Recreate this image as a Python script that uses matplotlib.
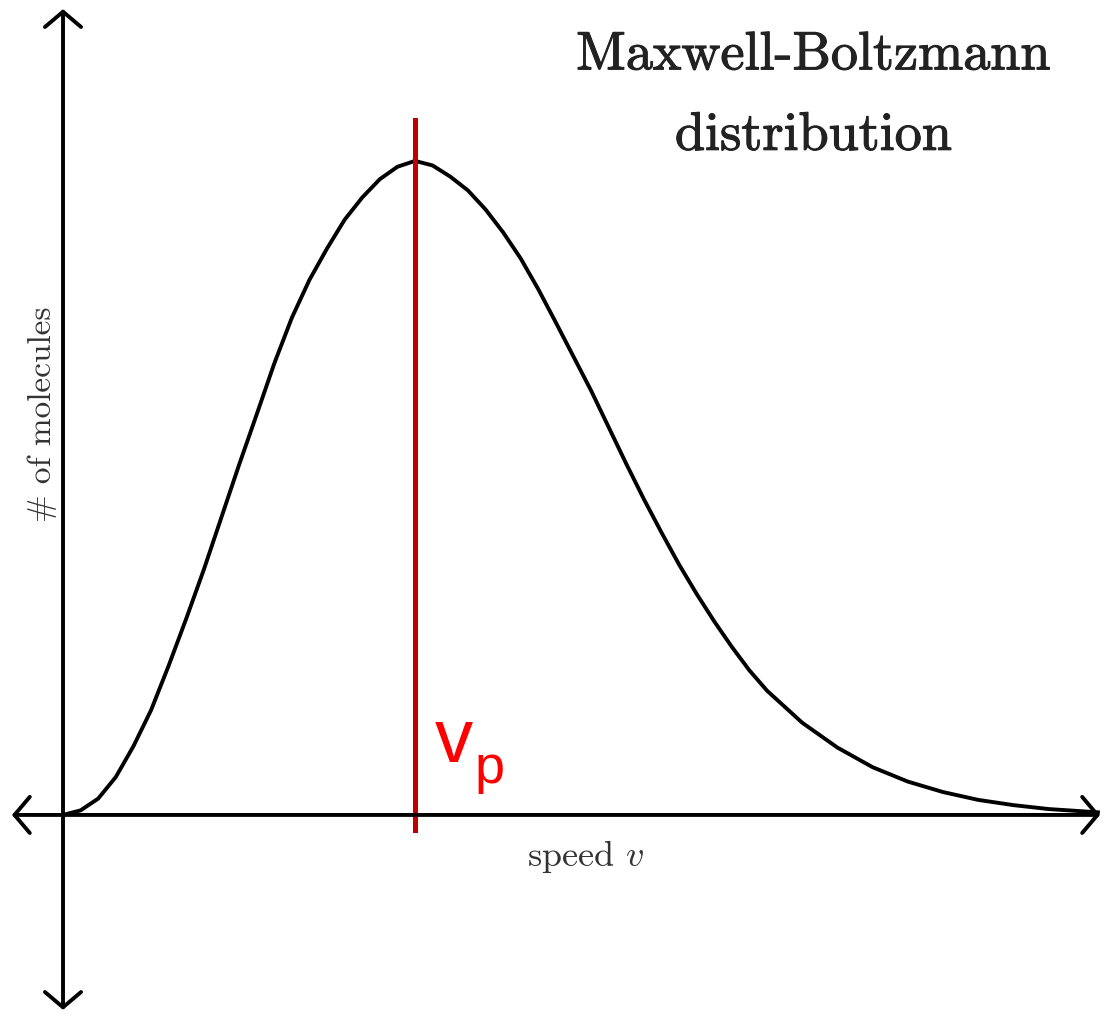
import matplotlib.pyplot as plt
import matplotlib.patheffects as pe

# Curva: velocidade (em unidades de v_p) e nº de moléculas (pico = 1)
speed = [0.00, 0.05, 0.10, 0.15, 0.20, 0.25, 0.30, 0.35, 0.40, 0.45,
         0.50, 0.55, 0.60, 0.65, 0.70, 0.75, 0.80, 0.85, 0.90, 0.95,
         1.00, 1.05, 1.10, 1.15, 1.20, 1.25, 1.30, 1.35, 1.40, 1.45,
         1.50, 1.55, 1.60, 1.65, 1.70, 1.75, 1.80, 1.85, 1.90, 1.95,
         2.00, 2.10, 2.20, 2.30, 2.40, 2.50, 2.60, 2.70, 2.80, 2.94]
molecules = [0.000, 0.007, 0.025, 0.058, 0.105, 0.160, 0.228, 0.300, 0.375, 0.455,
             0.535, 0.612, 0.690, 0.760, 0.818, 0.866, 0.910, 0.944, 0.972, 0.991,
             1.000, 0.993, 0.976, 0.955, 0.926, 0.891, 0.851, 0.804, 0.753, 0.701,
             0.649, 0.593, 0.537, 0.483, 0.432, 0.383, 0.338, 0.296, 0.257, 0.221,
             0.190, 0.141, 0.103, 0.073, 0.051, 0.035, 0.023, 0.015, 0.009, 0.004]

v_p = 1.0
title_lines = ['Maxwell-Boltzmann', 'distribution']
xlabel = 'speed $v$'
ylabel = '# of molecules'

plt.rcParams['mathtext.fontset'] = 'cm'

fig = plt.figure(figsize=(11.06, 10.19), dpi=100)
ax = fig.add_axes([0, 0, 1, 1])
ax.set_xlim(-0.179, 2.963)
ax.set_ylim(-0.312, 1.246)
ax.axis('off')

# eixos com setas nas duas pontas
arrow = dict(arrowstyle='<->,head_length=1.1,head_width=1.3', lw=2.8,
             color='black', mutation_scale=10, shrinkA=0, shrinkB=0)
ax.annotate('', xy=(-0.145, 0), xytext=(2.946, 0), arrowprops=arrow)
ax.annotate('', xy=(0, -0.298), xytext=(0, 1.232), arrowprops=arrow)

ax.plot(speed, molecules, color='black', lw=2.8, solid_joinstyle='round')

# linha vermelha do v_p
ax.plot([v_p, v_p], [-0.023, 1.063], color='#c00000', lw=3.6)
ax.text(v_p + 0.057, 0.081, 'v', color='#ff0000', fontsize=55,
        family='Liberation Sans', va='baseline', ha='left')
ax.text(v_p + 0.170, 0.049, 'p', color='#ff0000', fontsize=39,
        family='Liberation Sans', va='baseline', ha='left')

heavy = [pe.withStroke(linewidth=0.8, foreground='#222222')]
ax.text(2.131, 1.140, title_lines[0], family='cmr10', fontsize=39,
        ha='center', va='baseline', color='#222222', path_effects=heavy)
ax.text(2.131, 1.017, title_lines[1], family='cmr10', fontsize=39,
        ha='center', va='baseline', color='#222222', path_effects=heavy)

ax.text(1.485, -0.078, xlabel, family='cmr10', fontsize=26,
        ha='center', va='baseline', color='#333333')
ax.text(-0.060, 0.612, ylabel, family='cmr10', fontsize=24, rotation=90,
        ha='center', va='center', color='#333333')

plt.savefig('out.png', dpi=100)
